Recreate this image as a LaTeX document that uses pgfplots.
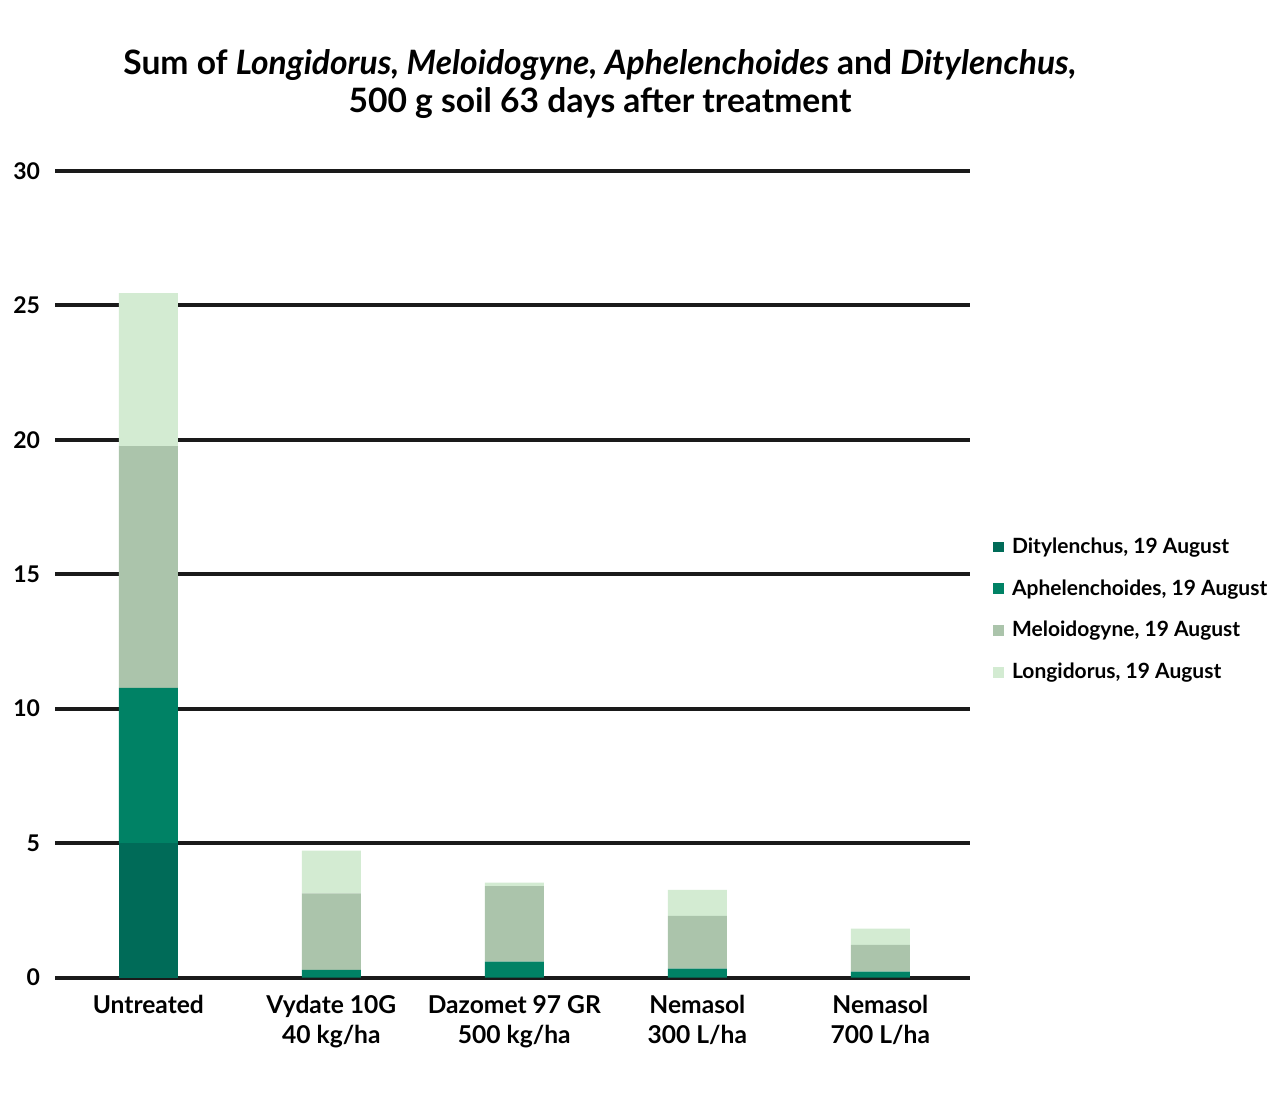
\documentclass[border=0pt]{standalone}
\usepackage{fontspec}
\setmainfont{Lato}
\usepackage{pgfplots}
\pgfplotsset{compat=1.18}
\definecolor{dity}{HTML}{006B58}
\definecolor{aphe}{HTML}{008265}
\definecolor{melo}{HTML}{ABC4AB}
\definecolor{longi}{HTML}{D3EBD2}
\definecolor{gridc}{HTML}{1A1A1A}
\begin{document}
\begin{tikzpicture}[x=1pt,y=1pt]
\useasboundingbox (0,0) rectangle (640,549.5);
\node[align=center, font=\fontsize{16.8}{19}\selectfont\bfseries] at (300,507.3)
 {Sum of \textit{Longidorus, Meloidogyne, Aphelenchoides} and \textit{Ditylenchus,}\\500 g soil 63 days after treatment};
\begin{axis}[
  at={(27.5pt,60.75pt)}, anchor=south west,
  scale only axis, width=457.5pt, height=403.25pt,
  clip=false,
  ybar stacked, bar width=29.5pt,
  xmin=-0.51, xmax=4.49, ymin=0, ymax=30,
  ytick={0,5,10,15,20,25,30},
  xtick=data,
  xticklabels={Untreated, {Vydate 10G\\40 kg/ha}, {Dazomet 97 GR\\500 kg/ha}, {Nemasol\\300 L/ha}, {Nemasol\\700 L/ha}},
  /pgf/number format/assume math mode=true,
  axis line style={draw=none},
  major tick length=0pt,
  ymajorgrids, major grid style={line width=2pt, gridc},
  yticklabel style={font=\fontsize{11.5}{13}\selectfont\bfseries, xshift=-4pt},
  xticklabel style={align=center, font=\fontsize{12.3}{15}\selectfont\bfseries, yshift=-5.5pt},
  legend cell align=left,
  legend style={draw=none, fill=none, at={(1.025,0.456)}, anchor=west,
    font=\fontsize{10.5}{12}\selectfont\bfseries, inner sep=0pt, row sep=7.6pt,
    /tikz/every odd column/.append style={column sep=2pt}},
]
\addplot[fill=dity, draw=none, legend image code/.code={\fill[dity] (0pt,-2.7pt) rectangle (5.4pt,2.7pt);}] coordinates {(0,5.0) (1,0) (2,0) (3,0) (4,0)};
\addlegendentry{Ditylenchus, 19 August}
\addplot[fill=aphe, draw=none, legend image code/.code={\fill[aphe] (0pt,-2.7pt) rectangle (5.4pt,2.7pt);}] coordinates {(0,5.77) (1,0.28) (2,0.59) (3,0.33) (4,0.22)};
\addlegendentry{Aphelenchoides, 19 August}
\addplot[fill=melo, draw=none, legend image code/.code={\fill[melo] (0pt,-2.7pt) rectangle (5.4pt,2.7pt);}] coordinates {(0,9.0) (1,2.85) (2,2.81) (3,1.96) (4,0.99)};
\addlegendentry{Meloidogyne, 19 August}
\addplot[fill=longi, draw=none, legend image code/.code={\fill[longi] (0pt,-2.7pt) rectangle (5.4pt,2.7pt);}] coordinates {(0,5.69) (1,1.59) (2,0.13) (3,0.97) (4,0.61)};
\addlegendentry{Longidorus, 19 August}
\end{axis}
\end{tikzpicture}
\end{document}
